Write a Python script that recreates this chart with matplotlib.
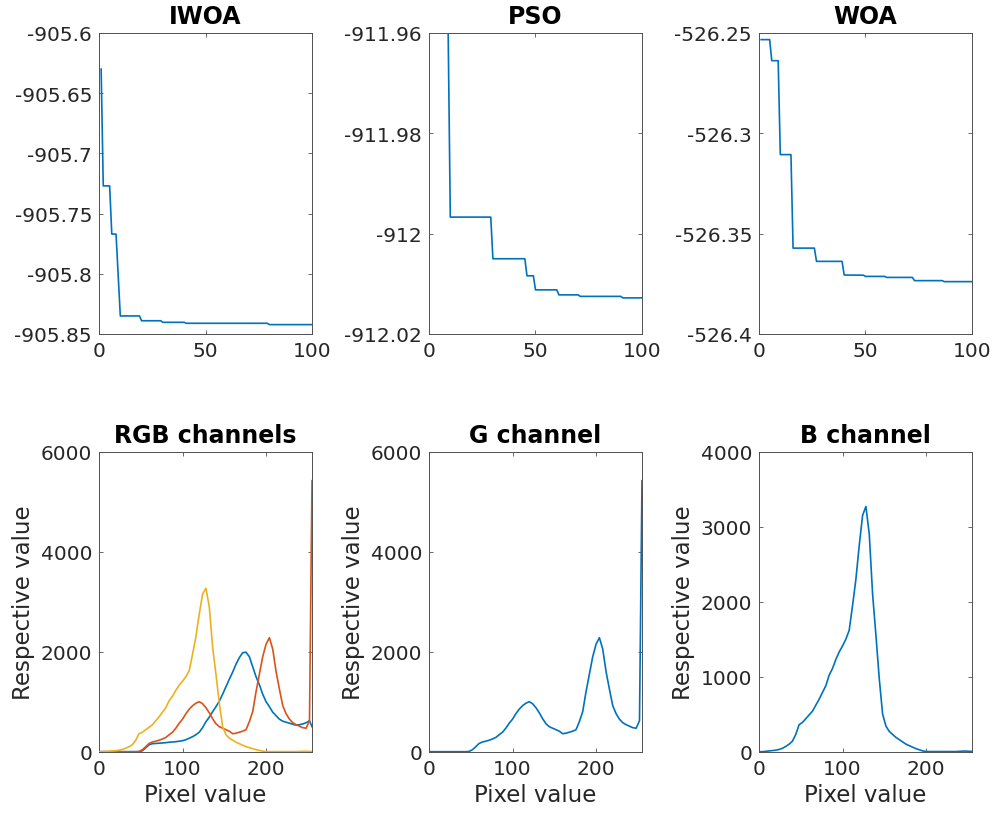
import matplotlib
matplotlib.use('Agg')

import matplotlib.pyplot as plt
import numpy as np

plt.rcParams['font.family'] = 'DejaVu Sans'
plt.rcParams['axes.unicode_minus'] = False

# convergence curves: iteration where the best value changes, and the value
iwoa_it = [1, 2, 5, 6, 8, 10, 19, 20, 29, 30, 40, 41, 79, 80, 100]
iwoa_val = [-905.630, -905.727, -905.727, -905.767, -905.767, -905.835, -905.835,
            -905.839, -905.839, -905.8403, -905.8403, -905.8411, -905.8411,
            -905.8422, -905.8422]

pso_it = [1, 9, 10, 29, 30, 45, 46, 49, 50, 60, 61, 70, 71, 90, 91, 100]
pso_val = [-911.9600, -911.9600, -911.9967, -911.9967, -912.0050, -912.0050,
           -912.0084, -912.0084, -912.0112, -912.0112, -912.0122, -912.0122,
           -912.0125, -912.0125, -912.0128, -912.0128]

woa_it = [1, 5, 6, 9, 10, 15, 16, 26, 27, 39, 40, 49, 50, 59, 60, 72, 73, 86, 87, 100]
woa_val = [-526.2533, -526.2533, -526.2638, -526.2638, -526.3106, -526.3106,
           -526.3572, -526.3572, -526.3638, -526.3638, -526.3706, -526.3707,
           -526.3713, -526.3713, -526.3718, -526.3718, -526.3734, -526.3734,
           -526.3739, -526.3739]

# histograms (read every 4 grey levels)
pixel = list(range(0, 253, 4)) + [255]
hist_r = [0, 0, 0, 0, 0, 0, 0, 0,
          0, 0, 0, 0, 0, 20, 80, 140,
          160, 165, 170, 175, 180, 190, 195, 200,
          210, 220, 240, 270, 300, 340, 390, 480,
          600, 690, 800, 900, 1010, 1150, 1300, 1450,
          1590, 1750, 1880, 1980, 1990, 1900, 1700, 1500,
          1340, 1150, 1000, 900, 790, 720, 650, 610,
          590, 570, 550, 530, 540, 555, 580, 620,
          500]
hist_g = [0, 0, 0, 0, 0, 0, 0, 0,
          0, 0, 0, 0, 5, 40, 100, 165,
          195, 210, 230, 255, 285, 340, 390, 470,
          570, 650, 760, 850, 920, 970, 1000, 960,
          880, 780, 660, 560, 500, 470, 440, 410,
          360, 370, 390, 410, 440, 600, 800, 1200,
          1550, 1900, 2150, 2280, 2050, 1600, 1250, 920,
          760, 650, 580, 540, 510, 480, 470, 620,
          5420]
hist_b = [0, 0, 5, 10, 15, 20, 30, 45,
          70, 100, 140, 230, 360, 390, 440, 490,
          540, 620, 700, 790, 880, 1020, 1110, 1230,
          1330, 1410, 1500, 1620, 1950, 2300, 2750, 3150,
          3270, 2900, 2100, 1550, 970, 500, 340, 270,
          230, 190, 160, 130, 100, 80, 60, 40,
          25, 10, 3, 2, 2, 2, 2, 2,
          2, 2, 2, 2, 5, 8, 8, 5,
          5]

c_blue = '#0072BD'
c_orange = '#D95319'
c_yellow = '#EDB120'
txt = '#262626'

fig = plt.figure(figsize=(9.95, 8.28), dpi=100)

lefts = [99 / 995, 429 / 995, 759 / 995]
w = 213 / 995
top_b, top_h = 1 - 335 / 828, 301 / 828
bot_b, bot_h = 1 - 752.7 / 828, 300 / 828


def style(ax):
    for s in ax.spines.values():
        s.set_color('#505050')
        s.set_linewidth(0.7)
    ax.tick_params(direction='in', top=True, right=True, length=3, width=0.6,
                   colors='#505050', labelcolor=txt, labelsize=14.5, pad=5)


top = [("IWOA", iwoa_it, iwoa_val, [-905.85, -905.8, -905.75, -905.7, -905.65, -905.6]),
       ("PSO", pso_it, pso_val, [-912.02, -912.0, -911.98, -911.96]),
       ("WOA", woa_it, woa_val, [-526.4, -526.35, -526.3, -526.25])]

for i, (name, xs, ys, yt) in enumerate(top):
    ax = fig.add_axes([lefts[i], top_b, w, top_h])
    ax.plot(xs, ys, color=c_blue, lw=1.2, zorder=3)
    ax.set_xlim(0, 100)
    ax.set_ylim(yt[0], yt[-1])
    ax.set_xticks([0, 50, 100])
    ax.set_yticks(yt)
    ax.set_yticklabels(['%g' % t for t in yt])
    ax.set_title(name, fontsize=17, fontweight='bold', color='black', pad=7)
    style(ax)

bottom = [("RGB channels", [(hist_r, c_blue), (hist_g, c_orange), (hist_b, c_yellow)], 6000,
           [0, 2000, 4000, 6000]),
          ("G channel", [(hist_g, c_blue)], 6000, [0, 2000, 4000, 6000]),
          ("B channel", [(hist_b, c_blue)], 4000, [0, 1000, 2000, 3000, 4000])]

for i, (name, lines, ymax, yt) in enumerate(bottom):
    ax = fig.add_axes([lefts[i], bot_b, w, bot_h])
    for h, c in lines:
        ax.plot(pixel, h, color=c, lw=1.2, zorder=3)
    ax.set_xlim(0, 255)
    ax.set_ylim(0, ymax)
    ax.set_xticks([0, 100, 200])
    ax.set_yticks(yt)
    ax.set_title(name, fontsize=17, fontweight='bold', color='black', pad=7)
    ax.set_xlabel("Pixel value", fontsize=16.5, color=txt, labelpad=4)
    ax.set_ylabel("Respective value", fontsize=16.5, color=txt, labelpad=4)
    style(ax)

fig.savefig("out.png", dpi=100)
